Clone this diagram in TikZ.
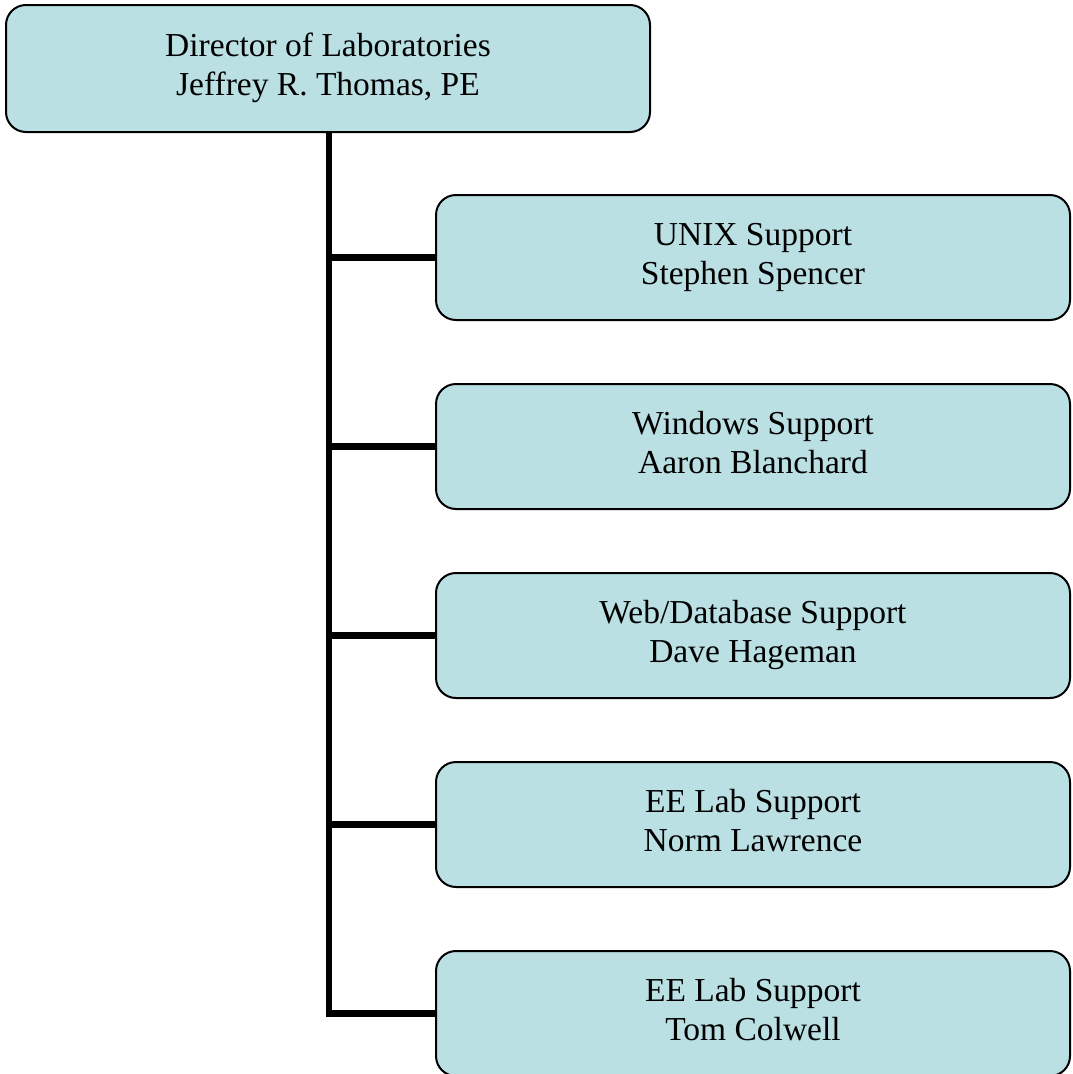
\documentclass[tikz,border=0pt]{standalone}
\usepackage{fontspec}
\setmainfont{Liberation Serif}
\definecolor{boxfill}{RGB}{186,224,227}
\newcommand{\twolines}[2]{\begin{tabular}{@{}c@{}}#1\\#2\end{tabular}}
\begin{document}
\begin{tikzpicture}[x=1pt,y=-1pt,
  orgbox/.style={draw=black, line width=2pt, fill=boxfill, rounded corners=20pt,
    inner sep=0pt, align=center, font=\fontsize{33.5}{39}\selectfont},
  conn/.style={draw=black, line width=6.5pt}]
\useasboundingbox (0,0) rectangle (1072,1074);
\clip (0,0) rectangle (1072,1074);
\node[orgbox, minimum width=644pt, minimum height=127pt] (top) at (328,68.5)
  {\twolines{Director of Laboratories}{Jeffrey R. Thomas, PE}};
\node[orgbox, minimum width=634pt, minimum height=125pt] (b1) at (753,257.5)
  {\twolines{UNIX Support}{Stephen Spencer}};
\node[orgbox, minimum width=634pt, minimum height=125pt] (b2) at (753,446.5)
  {\twolines{Windows Support}{Aaron Blanchard}};
\node[orgbox, minimum width=634pt, minimum height=125pt] (b3) at (753,635.5)
  {\twolines{Web/Database Support}{Dave Hageman}};
\node[orgbox, minimum width=634pt, minimum height=125pt] (b4) at (753,824.5)
  {\twolines{EE Lab Support}{Norm Lawrence}};
\node[orgbox, minimum width=634pt, minimum height=125pt] (b5) at (753,1013.5)
  {\twolines{EE Lab Support}{Tom Colwell}};
\coordinate (trunk) at ([xshift=1pt]top.south);
\draw[conn] (trunk) |- (b5.west);
\foreach \b in {b1,b2,b3,b4}{
  \draw[conn] (trunk |- \b.west) -- (\b.west);
}
\end{tikzpicture}
\end{document}
